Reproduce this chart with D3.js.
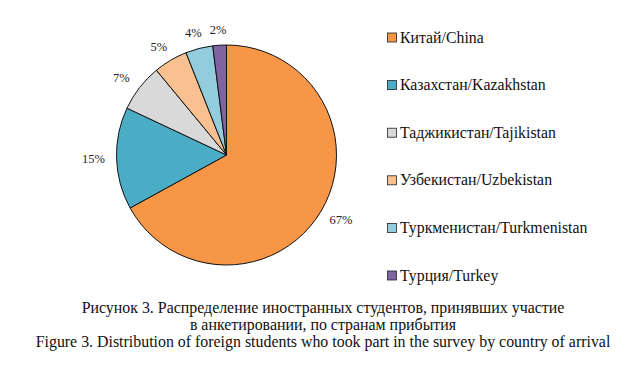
<!DOCTYPE html>
<html>
<head>
<meta charset="utf-8">
<script src="https://cdn.jsdelivr.net/npm/d3@7"></script>
<style>
  body { margin: 0; background: #fff; }
  svg { display: block; font-family: "Liberation Serif", "Times New Roman", serif; }
  .pct { font-size: 12.5px; fill: #222; }
  .legend text { font-size: 15.8px; fill: #111; }
  .caption { font-size: 15.9px; fill: #111; }
</style>
</head>
<body>
<div id="chart"></div>
<script>
const countries = [
  "Китай/China",
  "Казахстан/Kazakhstan",
  "Таджикистан/Tajikistan",
  "Узбекистан/Uzbekistan",
  "Туркменистан/Turkmenistan",
  "Турция/Turkey",
];
const shares = [67, 15, 7, 5, 4, 2];
const colors = ["#F79646", "#4BACC6", "#D9D9D9", "#FAC090", "#93CDDD", "#8064A2"];
const captionLines = [
  "Рисунок 3. Распределение иностранных студентов, принявших участие",
  "в анкетировании, по странам прибытия",
  "Figure 3. Distribution of foreign students who took part in the survey by country of arrival",
];

const width = 636;
const height = 365;
const cx = 226.5;
const cy = 155;
const radius = 110;

const data = countries.map((name, i) => ({ name, value: shares[i] }));

const color = d3.scaleOrdinal().domain(countries).range(colors);

const pie = d3.pie().sort(null).value((d) => d.value);
const arc = d3.arc().innerRadius(0).outerRadius(radius);
const arcs = pie(data);

const svg = d3
  .select("#chart")
  .append("svg")
  .attr("width", width)
  .attr("height", height);

const g = svg.append("g").attr("transform", `translate(${cx},${cy})`);

g.selectAll("path")
  .data(arcs)
  .join("path")
  .attr("d", arc)
  .attr("fill", (d) => color(d.data.name))
  .attr("stroke", "#111")
  .attr("stroke-width", 1);

// labels sit just outside the rim, pushed out by half their box
const gap = 10;
g.selectAll("text.pct")
  .data(arcs)
  .join("text")
  .attr("class", "pct")
  .attr("text-anchor", "middle")
  .attr("dy", "0.35em")
  .attr("x", (d) => {
    const a = (d.startAngle + d.endAngle) / 2;
    return Math.sin(a) * (radius + gap) + Math.sin(a) * 13;
  })
  .attr("y", (d) => {
    const a = (d.startAngle + d.endAngle) / 2;
    return -Math.cos(a) * (radius + gap) - Math.cos(a) * 6;
  })
  .text((d) => `${d.data.value}%`);

// legend
const legendY = d3
  .scalePoint()
  .domain(countries)
  .range([37, 275]);

const legend = svg
  .append("g")
  .attr("class", "legend")
  .selectAll("g")
  .data(countries)
  .join("g")
  .attr("transform", (d) => `translate(387,${legendY(d)})`);

legend
  .append("rect")
  .attr("x", 0.5)
  .attr("y", -4)
  .attr("width", 9)
  .attr("height", 9)
  .attr("fill", (d) => color(d))
  .attr("stroke", "#222")
  .attr("stroke-width", 0.8);

legend
  .append("text")
  .attr("x", 13)
  .attr("dy", "0.35em")
  .text((d) => d);

// caption
svg
  .append("g")
  .selectAll("text")
  .data(captionLines)
  .join("text")
  .attr("class", "caption")
  .attr("text-anchor", "middle")
  .attr("x", 323)
  .attr("y", (d, i) => 313 + i * 17)
  .text((d) => d);
</script>
</body>
</html>
